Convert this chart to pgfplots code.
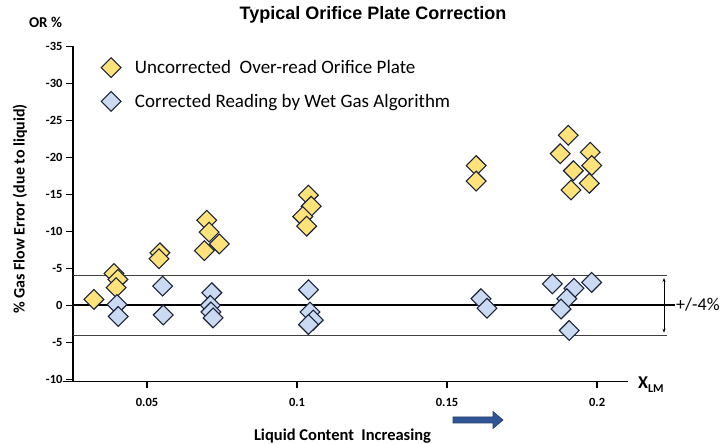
\documentclass[border=0pt]{standalone}
\usepackage{pgfplots}
\pgfplotsset{compat=1.18}
\usetikzlibrary{arrows.meta}
\usepackage{fontspec}
\setmainfont{Carlito}
\newfontfamily\arialfont{Liberation Sans}
\definecolor{yfill}{HTML}{FFE27A}
\definecolor{bfill}{HTML}{C9DAF2}
\definecolor{medge}{HTML}{1A2238}
\definecolor{arrowblue}{HTML}{2F5597}
\begin{document}
\begin{tikzpicture}
\useasboundingbox (-73pt,-62.5pt) rectangle (650pt,381.5pt);
\begin{axis}[
  at={(0pt,0pt)}, anchor=south west,
  scale only axis, width=555pt, height=335pt,
  xmin=0.02533, xmax=0.2103, ymin=-10.3, ymax=35,
  axis lines*=left,
  axis line style={line width=1.6pt, black},
  xtick={0.05,0.1,0.15,0.2}, xticklabels={0.05,0.1,0.15,0.2},
  ytick={-10,-5,...,35},
  yticklabels={-10,-5,0,-5,-10,-15,-20,-25,-30,-35},
  tick align=outside,
  major tick length=7pt,
  tick style={line width=1.2pt, black},
  xticklabel style={font=\fontsize{12.5}{14}\selectfont\bfseries, yshift=-6pt},
  yticklabel style={font=\fontsize{12.5}{14}\selectfont\bfseries},
  clip=false,
  legend cell align=left,
  legend style={draw=none, fill=none, at={(axis description cs:0,1)}, anchor=north west,
    xshift=25pt, yshift=-9pt, font=\fontsize{19}{22}\selectfont, row sep=14pt, column sep=12pt},
]
\addplot[only marks, mark=square*, mark size=7pt,
  mark options={rotate=45, fill=yfill, draw=medge, line width=1.1pt}]
table {
x y
0.0323 0.8
0.0390 4.3
0.0403 3.5
0.0397 2.4
0.0543 7.1
0.0540 6.3
0.0699 11.5
0.0707 9.9
0.0741 8.3
0.0691 7.4
0.1038 14.9
0.1047 13.4
0.1019 12.0
0.1032 10.7
0.1597 18.9
0.1597 16.8
0.1904 23.0
0.1877 20.5
0.1977 20.7
0.1982 18.9
0.1921 18.2
0.1974 16.5
0.1913 15.6
};
\addlegendentry{Uncorrected\ \ Over-read Orifice Plate}
\addplot[only marks, mark=square*, mark size=7pt,
  mark options={rotate=45, fill=bfill, draw=medge, line width=1.1pt}]
table {
x y
0.0400 0.1
0.0404 -1.5
0.0552 2.6
0.0554 -1.3
0.0716 1.7
0.0711 0.0
0.0713 -0.9
0.0720 -1.7
0.1038 2.1
0.1043 -0.9
0.1054 -2.0
0.1038 -2.6
0.1613 0.9
0.1633 -0.4
0.1851 2.9
0.1923 2.3
0.1982 3.1
0.1899 0.9
0.1880 -0.5
0.1907 -3.4
};
\addlegendentry{Corrected Reading by Wet Gas Algorithm}
\draw[line width=0.8pt, black!75] (axis cs:0.02533,4) -- (axis cs:0.2233,4);
\draw[line width=0.8pt, black!75] (axis cs:0.02533,-4) -- (axis cs:0.2233,-4);
\draw[line width=1.8pt, black] (axis cs:0.02533,0) -- (axis cs:0.2260,0);
\draw[line width=0.7pt, -{Stealth[length=4pt,width=3pt]}] (axis cs:0.2223,0) -- (axis cs:0.2223,3.7);
\draw[line width=0.7pt, -{Stealth[length=4pt,width=3pt]}] (axis cs:0.2223,0) -- (axis cs:0.2223,-3.7);
\end{axis}
\draw[line width=1.6pt] (-10pt,0pt) -- (0pt,0pt);
\node[font=\arialfont\fontsize{18}{20}\selectfont\bfseries] at (300pt,366.5pt) {Typical Orifice Plate Correction};
\node[font=\fontsize{15}{17}\selectfont\bfseries] at (-27.5pt,359.5pt) {OR \%};
\node[font=\fontsize{16}{18}\selectfont\bfseries, rotate=90] at (-53pt,172.5pt) {\% Gas Flow Error (due to liquid)};
\node[font=\fontsize{16.5}{18}\selectfont\bfseries] at (269.5pt,-54.5pt) {Liquid Content\ \ Increasing};
\fill[arrowblue, draw=arrowblue!70!black, line width=0.6pt] (380pt,-35.5pt) -- (420pt,-35.5pt) -- (420pt,-30pt) -- (430pt,-38.5pt) -- (420pt,-47pt) -- (420pt,-41.5pt) -- (380pt,-41.5pt) -- cycle;
\node[anchor=west, font=\fontsize{18}{20}\selectfont\bfseries, inner sep=0pt] at (565pt,-3.5pt) {X\raisebox{-4pt}{\fontsize{12}{12}\selectfont\bfseries LM}};
\node[anchor=west, font=\fontsize{18}{20}\selectfont, inner sep=0pt] at (603pt,76.5pt) {+/-4\%};
\end{tikzpicture}
\end{document}
